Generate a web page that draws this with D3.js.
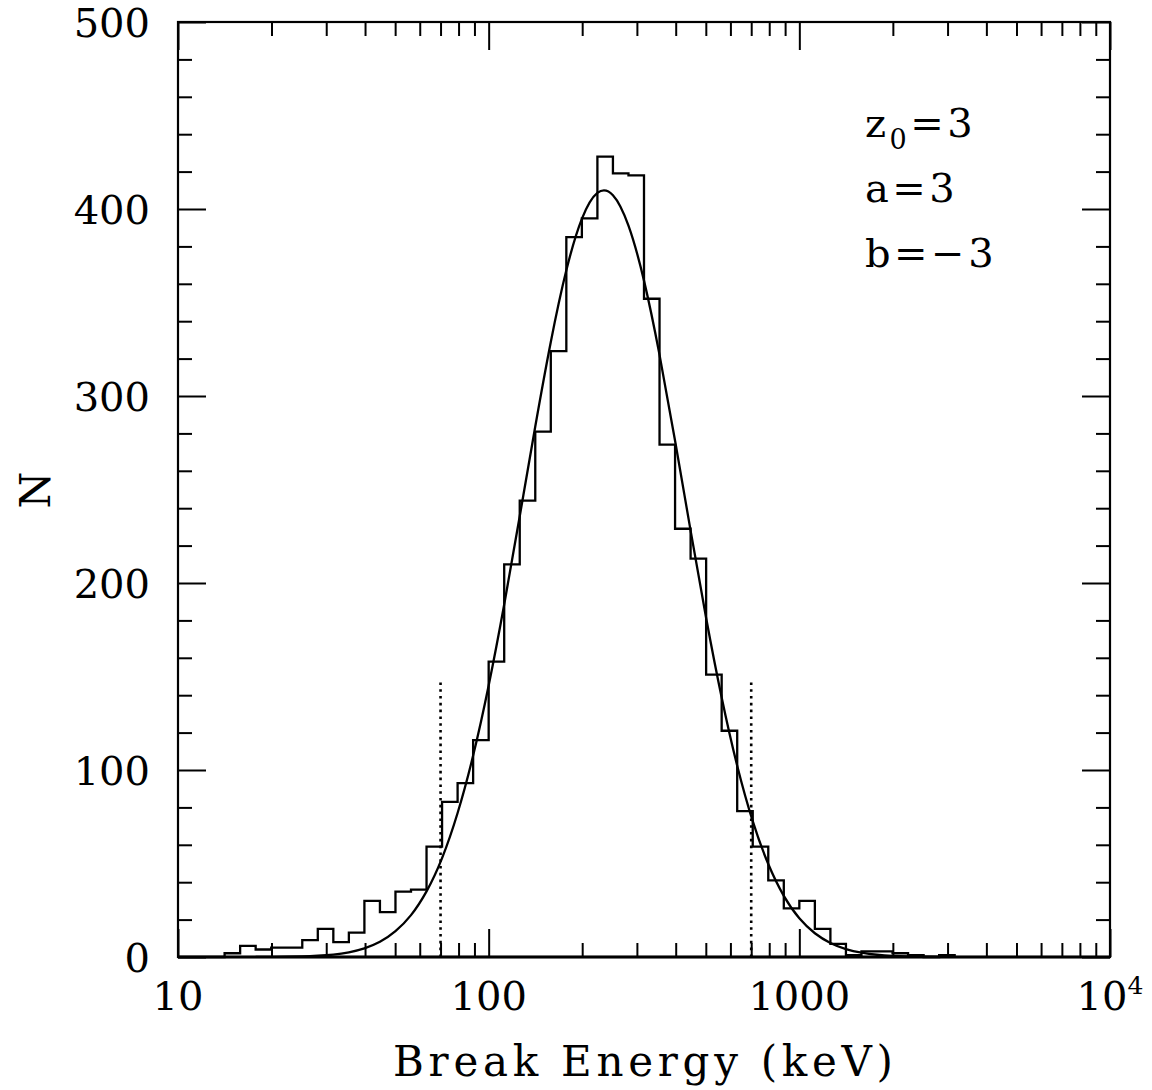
<!DOCTYPE html>
<html>
<head>
<meta charset="utf-8">
<script src="https://cdn.jsdelivr.net/npm/d3@7"></script>
<style>
  html, body { margin: 0; padding: 0; background: #fff; }
  svg { display: block; }
  text { font-family: "DejaVu Serif", serif; fill: #000; }
</style>
</head>
<body>
<svg id="chart" width="1152" height="1090"></svg>
<script>
// ---------------- data ----------------
// histogram bins: lower edge in log10(E/keV), bin width 0.05 dex
const binLogEdges = [1.00,1.05,1.10,1.15,1.20,1.25,1.30,1.35,1.40,1.45,
                     1.50,1.55,1.60,1.65,1.70,1.75,1.80,1.85,1.90,1.95,
                     2.00,2.05,2.10,2.15,2.20,2.25,2.30,2.35,2.40,2.45,
                     2.50,2.55,2.60,2.65,2.70,2.75,2.80,2.85,2.90,2.95,
                     3.00,3.05,3.10,3.15,3.20,3.25,3.30,3.35,3.40,3.45,3.50];
const binCounts   = [0,0,0,2,6,4,5,5,9,15,
                     8,13,30,24,35,36,59,83,93,116,
                     158,210,244,281,324,385,395,428,419,418,
                     352,274,229,213,151,121,78,59,41,26,
                     30,15,7,1,3,3,2,1,0,1];
// fitted model curve
const curveLogE = [1.25,1.30,1.35,1.40,1.45,1.50,1.55,1.60,1.65,1.70,1.75,1.80,1.85,1.90,1.95,
                   2.00,2.05,2.10,2.15,2.20,2.25,2.30,2.35,2.40,2.45,2.50,2.55,2.60,2.65,2.70,
                   2.75,2.80,2.85,2.90,2.95,3.00,3.05,3.10,3.15,3.20,3.25,3.30,3.35,3.40,3.45,3.50];
const curveN    = [0.03,0.07,0.16,0.33,0.68,1.3,2.5,4.6,8.1,13.8,22.4,35.1,52.9,77.0,107.7,
                   145.2,188.5,235.7,283.7,328.9,367.2,394.7,408.6,407.4,391.1,361.7,322.0,276.1,228.0,181.3,
                   138.8,102.3,72.7,49.7,32.7,20.7,12.7,7.5,4.2,2.3,1.2,0.6,0.3,0.14,0.06,0.03];
// dotted markers (keV) and their height
const markerE = [70, 700];
const markerTop = 147;
// axes
const xMajorTicks = [10, 100, 1000, 10000];
const xTickLabels = ["10", "100", "1000", "10^4"];
const yMajorTicks = [0, 100, 200, 300, 400, 500];
const yTickLabels = ["0", "100", "200", "300", "400", "500"];
const annotations = ["z0=3", "a=3", "b=\u22123"];

// ---------------- layout ----------------
const X0 = 178, X1 = 1110, Y0 = 22, Y1 = 957;
const svg = d3.select("#chart");
const x = d3.scaleLog().domain([10, 10000]).range([X0, X1]);
const y = d3.scaleLinear().domain([0, 500]).range([Y1, Y0]);

const xMinor = x.ticks().filter(v => !xMajorTicks.includes(v));
const yMinor = y.ticks(25).filter(v => !yMajorTicks.includes(v));

function styleAxis(g) {
  g.select(".domain").remove();
  g.selectAll(".tick line").attr("stroke", "#000").attr("stroke-width", 2);
  g.selectAll(".tick text").remove();
}
const MAJ = 28, MIN = 14;
// bottom
svg.append("g").attr("transform", `translate(0,${Y1})`)
  .call(d3.axisBottom(x).tickValues(xMinor).tickSize(-MIN).tickSizeOuter(0).tickFormat("")).call(styleAxis);
svg.append("g").attr("transform", `translate(0,${Y1})`)
  .call(d3.axisBottom(x).tickValues(xMajorTicks).tickSize(-MAJ).tickSizeOuter(0).tickFormat("")).call(styleAxis);
// top
svg.append("g").attr("transform", `translate(0,${Y0})`)
  .call(d3.axisTop(x).tickValues(xMinor).tickSize(-MIN).tickSizeOuter(0).tickFormat("")).call(styleAxis);
svg.append("g").attr("transform", `translate(0,${Y0})`)
  .call(d3.axisTop(x).tickValues(xMajorTicks).tickSize(-MAJ).tickSizeOuter(0).tickFormat("")).call(styleAxis);
// left
svg.append("g").attr("transform", `translate(${X0},0)`)
  .call(d3.axisLeft(y).tickValues(yMinor).tickSize(-MIN).tickSizeOuter(0).tickFormat("")).call(styleAxis);
svg.append("g").attr("transform", `translate(${X0},0)`)
  .call(d3.axisLeft(y).tickValues(yMajorTicks).tickSize(-MAJ).tickSizeOuter(0).tickFormat("")).call(styleAxis);
// right
svg.append("g").attr("transform", `translate(${X1},0)`)
  .call(d3.axisRight(y).tickValues(yMinor).tickSize(-MIN).tickSizeOuter(0).tickFormat("")).call(styleAxis);
svg.append("g").attr("transform", `translate(${X1},0)`)
  .call(d3.axisRight(y).tickValues(yMajorTicks).tickSize(-MAJ).tickSizeOuter(0).tickFormat("")).call(styleAxis);

// frame
svg.append("rect").attr("x", X0).attr("y", Y0).attr("width", X1 - X0).attr("height", Y1 - Y0)
  .attr("fill", "none").attr("stroke", "#000").attr("stroke-width", 2.2);
svg.append("line").attr("x1", X0).attr("x2", X1).attr("y1", Y1).attr("y2", Y1)
  .attr("stroke", "#000").attr("stroke-width", 3);

// tick labels
xMajorTicks.forEach((v, i) => {
  const lab = xTickLabels[i];
  const t = svg.append("text").attr("x", x(v)).attr("y", 1010)
    .attr("text-anchor", "middle").attr("font-size", 40);
  if (lab.includes("^")) {
    const [base, sup] = lab.split("^");
    t.append("tspan").text(base);
    t.append("tspan").attr("font-size", 25).attr("dy", -16).text(sup);
  } else {
    t.text(lab);
  }
});
yMajorTicks.forEach((v, i) => {
  svg.append("text").attr("x", 150).attr("y", y(v) + 15)
    .attr("text-anchor", "end").attr("font-size", 40).text(yTickLabels[i]);
});

// axis titles
svg.append("text").attr("x", 393).attr("y", 1076).attr("font-size", 42)
  .attr("textLength", 500).attr("lengthAdjust", "spacing").text("Break Energy (keV)");
svg.append("text").attr("transform", "translate(50,490) rotate(-90)")
  .attr("text-anchor", "middle").attr("font-size", 42).text("N");

// histogram (step line)
const histPts = binCounts.map((c, i) => [Math.pow(10, binLogEdges[i]), c]);
histPts.push([Math.pow(10, binLogEdges[binLogEdges.length - 1]), binCounts[binCounts.length - 1]]);
histPts.push([Math.pow(10, binLogEdges[binLogEdges.length - 1]), 0]);
svg.append("path")
  .attr("d", d3.line().x(d => x(d[0])).y(d => y(d[1])).curve(d3.curveStepAfter)(histPts))
  .attr("fill", "none").attr("stroke", "#000").attr("stroke-width", 2.3);

// model curve
const curvePts = curveLogE.map((l, i) => [Math.pow(10, l), curveN[i]]);
svg.append("path")
  .attr("d", d3.line().x(d => x(d[0])).y(d => y(d[1])).curve(d3.curveNatural)(curvePts))
  .attr("fill", "none").attr("stroke", "#000").attr("stroke-width", 2.3);

// dotted markers
markerE.forEach(e => {
  svg.append("line").attr("x1", x(e)).attr("x2", x(e)).attr("y1", y(0)).attr("y2", y(markerTop))
    .attr("stroke", "#000").attr("stroke-width", 2.6).attr("stroke-dasharray", "2.6,4.2");
});

// annotations
const annY = [137, 202, 267];
annotations.forEach((s, i) => {
  const t = svg.append("text").attr("x", 865).attr("y", annY[i]).attr("font-size", 40)
    .attr("letter-spacing", 3.5);
  if (s.startsWith("z0")) {
    t.append("tspan").text("z");
    t.append("tspan").attr("font-size", 27).attr("dy", 12).text("0");
    t.append("tspan").attr("dy", -12).text(s.slice(2));
  } else {
    t.text(s);
  }
});
</script>
</body>
</html>
